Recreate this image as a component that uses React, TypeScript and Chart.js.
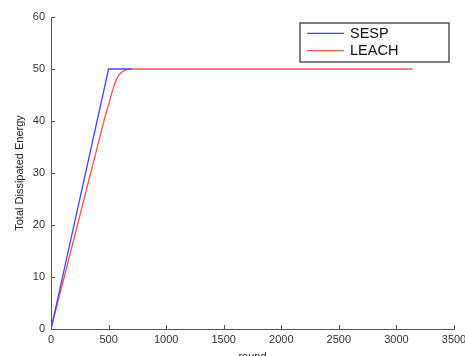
import React, { useEffect, useRef } from "react";
import { Chart, registerables } from "chart.js";

Chart.register(...registerables);

const seriesNames = ["SESP", "LEACH"];
const roundsSESP = [0, 500, 700];
const energySESP = [0, 50, 50];
const roundsLEACH = [0, 440, 470, 500, 527, 545, 564, 585, 613, 650, 686, 3140];
const energyLEACH = [0, 38.3, 40.9, 43.1, 45.3, 46.6, 47.8, 48.7, 49.4, 49.85, 50, 50];
const xTicks = [0, 500, 1000, 1500, 2000, 2500, 3000, 3500];
const yTicks = [0, 10, 20, 30, 40, 50, 60];

const FONT = "'Liberation Sans', Arial, sans-serif";
const BLUE = "rgb(70,70,255)";
const RED = "rgb(255,80,80)";

const innerTicks = {
  id: "innerTicks",
  afterDraw(chart: any) {
    const ctx = chart.ctx;
    const xs = chart.scales.x;
    const ys = chart.scales.y;
    const area = chart.chartArea;
    ctx.save();
    ctx.strokeStyle = "#555";
    ctx.lineWidth = 1;
    ctx.beginPath();
    xTicks.forEach((v) => {
      const px = Math.round(xs.getPixelForValue(v)) + 0.5;
      ctx.moveTo(px, area.bottom);
      ctx.lineTo(px, area.bottom - 4);
    });
    yTicks.forEach((v) => {
      const py = Math.round(ys.getPixelForValue(v)) + 0.5;
      ctx.moveTo(area.left, py);
      ctx.lineTo(area.left + 4, py);
    });
    ctx.stroke();
    ctx.restore();
  },
};

const boxLegend = {
  id: "boxLegend",
  afterDraw(chart: any) {
    const ctx = chart.ctx;
    const x0 = 300, y0 = 23, w = 149, h = 39;
    ctx.save();
    ctx.fillStyle = "#fff";
    ctx.fillRect(x0, y0, w, h);
    ctx.strokeStyle = "#555";
    ctx.lineWidth = 1.5;
    ctx.strokeRect(x0, y0, w, h);
    const rows = [33.3, 50.7];
    chart.data.datasets.forEach((ds: any, i: number) => {
      const y = rows[i];
      ctx.strokeStyle = ds.borderColor;
      ctx.lineWidth = 1.3;
      ctx.beginPath();
      ctx.moveTo(307, y);
      ctx.lineTo(344, y);
      ctx.stroke();
      ctx.fillStyle = "#111";
      ctx.font = `14.5px ${FONT}`;
      ctx.textBaseline = "middle";
      ctx.textAlign = "left";
      ctx.fillText(ds.label, 350, y + 0.5);
    });
    ctx.restore();
  },
};

export default function App() {
  const ref = useRef<HTMLCanvasElement>(null);
  useEffect(() => {
    if (!ref.current) return;
    const chart = new Chart(ref.current, {
      type: "scatter",
      data: {
        datasets: [
          {
            label: seriesNames[0],
            data: roundsSESP.map((x, i) => ({ x, y: energySESP[i] })),
            borderColor: BLUE,
            backgroundColor: BLUE,
            showLine: true,
            pointRadius: 0,
            borderWidth: 1.3,
            tension: 0,
          },
          {
            label: seriesNames[1],
            data: roundsLEACH.map((x, i) => ({ x, y: energyLEACH[i] })),
            borderColor: RED,
            backgroundColor: RED,
            showLine: true,
            pointRadius: 0,
            borderWidth: 1.3,
            tension: 0,
          },
        ],
      },
      options: {
        animation: false,
        responsive: false,
        maintainAspectRatio: false,
        layout: { padding: { top: 17, right: 11, left: 0, bottom: 0 } },
        plugins: { legend: { display: false }, tooltip: { enabled: false } },
        scales: {
          x: {
            type: "linear",
            min: 0,
            max: 3500,
            afterFit: (s: any) => {
              s.height = 35;
              s.paddingLeft = 0;
              s.paddingRight = 0;
            },
            afterBuildTicks: (s: any) => {
              s.ticks = xTicks.map((v) => ({ value: v }));
            },
            ticks: {
              autoSkip: false,
              maxRotation: 0,
              padding: 4,
              color: "#333",
              font: { family: FONT, size: 11 },
              callback: (v: any) => String(v),
            },
            grid: { display: true, drawOnChartArea: false, drawTicks: false },
            border: { display: true, color: "#555", width: 1 },
            title: {
              display: true,
              text: "round",
              color: "#222",
              font: { family: FONT, size: 11 },
              padding: 0,
            },
          },
          y: {
            type: "linear",
            min: 0,
            max: 60,
            afterFit: (s: any) => {
              s.width = 51;
              s.paddingTop = 0;
              s.paddingBottom = 0;
            },
            afterBuildTicks: (s: any) => {
              s.ticks = yTicks.map((v) => ({ value: v }));
            },
            ticks: {
              autoSkip: false,
              padding: 6,
              color: "#333",
              font: { family: FONT, size: 11 },
              callback: (v: any) => String(v),
            },
            grid: { display: true, drawOnChartArea: false, drawTicks: false },
            border: { display: true, color: "#555", width: 1 },
            title: {
              display: true,
              text: "Total Dissipated Energy",
              color: "#222",
              font: { family: FONT, size: 11 },
              padding: { top: 13, bottom: 0 },
            },
          },
        },
      },
      plugins: [innerTicks, boxLegend],
    });
    return () => chart.destroy();
  }, []);
  return (
    <div style={{ position: "fixed", left: 0, top: 0, width: 465, height: 364, background: "#fff" }}>
      <canvas ref={ref} width={465} height={364} style={{ display: "block" }} />
    </div>
  );
}
